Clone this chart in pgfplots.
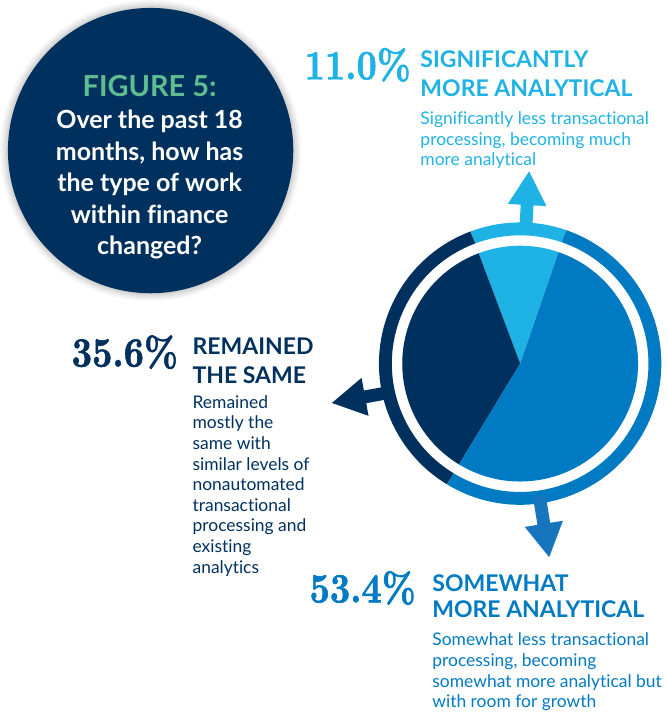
\documentclass[border=0pt]{standalone}
\usepackage{pgfplots}
\pgfplotsset{compat=1.18}
\usepackage{graphicx}
\usepackage{fontspec}
\setmainfont{Lato}[Ligatures=NoCommon]
\newfontfamily\numfont{lmroman10-bold.otf}[FakeBold=1.6]

\definecolor{navy}{HTML}{00315E}
\definecolor{skyblue}{HTML}{1FB2E4}
\definecolor{midblue}{HTML}{007AC2}
\definecolor{arrowblue}{HTML}{1675BC}
\definecolor{figgreen}{HTML}{5EBE92}

% share of respondents, percent
\def\pctMuch{11.0}
\def\pctSame{35.6}
\def\pctSome{53.4}

% slice angles (pie starts at 71 deg, counter-clockwise)
\pgfmathsetmacro\aA{71}
\pgfmathsetmacro\aB{\aA+3.6*\pctMuch}
\pgfmathsetmacro\aC{\aB+3.6*\pctSame}
\pgfmathsetmacro\aD{\aC+3.6*\pctSome}

\newcommand\pct[1]{\numfont\fontsize{21}{21}\selectfont\scalebox{0.85}[1]{#1}}
\tikzset{head/.style={anchor=base west, inner sep=0, font=\bfseries\fontsize{11.6}{12}\selectfont}}

\begin{document}
\begin{tikzpicture}
\begin{axis}[
    width=340pt, height=357pt, scale only axis,
    xmin=0, xmax=680, ymin=0, ymax=714,
    hide axis, clip=false,
]
% question bubble
\fill[black, opacity=0.03] (axis cs:151,567) circle[radius=76pt];
\fill[black, opacity=0.04] (axis cs:151,567) circle[radius=75pt];
\fill[black, opacity=0.05] (axis cs:151,567) circle[radius=74pt];
\fill[black, opacity=0.06] (axis cs:151,567) circle[radius=73pt];
\fill[navy] (axis cs:151,567) circle[radius=72pt];
\node[anchor=base, inner sep=0, text=figgreen, font=\bfseries\fontsize{14.6}{15}\selectfont]
    at (axis cs:150,622) {FIGURE 5:};
\node[anchor=base, inner sep=0, text=white, font=\bfseries\fontsize{12.6}{15.85}\selectfont]
    at (axis cs:150,589) {\begin{tabular}[t]{@{}c@{}}Over the past 18\\months, how has\\the type of work\\within finance\\changed?\end{tabular}};

% pie
\fill[skyblue] (axis cs:524,352) -- ++(\aA:59.5pt) arc[start angle=\aA, end angle=\aB, radius=59.5pt] -- cycle;
\fill[navy] (axis cs:524,352) -- ++(\aB:59.5pt) arc[start angle=\aB, end angle=\aC, radius=59.5pt] -- cycle;
\fill[midblue] (axis cs:524,352) -- ++(\aC:59.5pt) arc[start angle=\aC, end angle=\aD, radius=59.5pt] -- cycle;
% outer ring
\draw[skyblue, line width=6.5pt] (axis cs:524,352) ++(\aA:68pt) arc[start angle=\aA, end angle=\aB, radius=68pt];
\draw[navy, line width=6.5pt] (axis cs:524,352) ++(\aB:68pt) arc[start angle=\aB, end angle=\aC, radius=68pt];
\draw[midblue, line width=6.5pt] (axis cs:524,352) ++(\aC:68pt) arc[start angle=\aC, end angle=\aD, radius=68pt];

% arrows
\fill[skyblue, shift={(axis cs:533,546)}, rotate=86.7]
    (0,0) -- (-17pt,9.75pt) -- (-17pt,3.25pt) -- (-29.5pt,3.25pt) -- (-29.5pt,-3.25pt) -- (-17pt,-3.25pt) -- (-17pt,-9.75pt) -- cycle;
\fill[navy, shift={(axis cs:334,312.3)}, rotate=190.4]
    (0,0) -- (-17pt,9.75pt) -- (-17pt,3.25pt) -- (-29pt,3.25pt) -- (-29pt,-3.25pt) -- (-17pt,-3.25pt) -- (-17pt,-9.75pt) -- cycle;
\fill[arrowblue, shift={(axis cs:553.3,156.7)}, rotate=-80.8]
    (0,0) -- (-17pt,9.75pt) -- (-17pt,3.25pt) -- (-31pt,3.25pt) -- (-31pt,-3.25pt) -- (-17pt,-3.25pt) -- (-17pt,-9.75pt) -- cycle;

% labels: significantly more analytical
\node[anchor=base west, inner sep=0, text=skyblue] at (axis cs:306,639) {\pct{11.0\%}};
\node[head, text=skyblue] at (axis cs:423,651) {SIGNIFICANTLY};
\node[head, text=skyblue] at (axis cs:423,622) {MORE ANALYTICAL};
\node[anchor=base west, inner sep=0, text=skyblue, font=\fontsize{8.8}{10.25}\selectfont]
    at (axis cs:423,593) {\begin{tabular}[t]{@{}l@{}}Significantly less transactional\\processing, becoming much\\more analytical\end{tabular}};

% labels: remained the same
\node[anchor=base west, inner sep=0, text=navy] at (axis cs:71,349) {\pct{35.6\%}};
\node[head, text=navy] at (axis cs:193,361) {REMAINED};
\node[head, text=navy] at (axis cs:193,332) {THE SAME};
\node[anchor=base west, inner sep=0, text=navy, font=\fontsize{8.8}{10.4}\selectfont]
    at (axis cs:193,307) {\begin{tabular}[t]{@{}l@{}}Remained\\mostly the\\same with\\similar levels of\\nonautomated\\transactional\\processing and\\existing\\analytics\end{tabular}};

% labels: somewhat more analytical
\node[anchor=base west, inner sep=0, text=midblue] at (axis cs:311,111) {\pct{53.4\%}};
\node[head, text=midblue] at (axis cs:435,122) {SOMEWHAT};
\node[head, text=midblue] at (axis cs:435,96) {MORE ANALYTICAL};
\node[anchor=base west, inner sep=0, text=midblue, font=\fontsize{8.8}{10.4}\selectfont]
    at (axis cs:435,67) {\begin{tabular}[t]{@{}l@{}}Somewhat less transactional\\processing, becoming\\somewhat more analytical but\\with room for growth\end{tabular}};
\end{axis}
\end{tikzpicture}
\end{document}
